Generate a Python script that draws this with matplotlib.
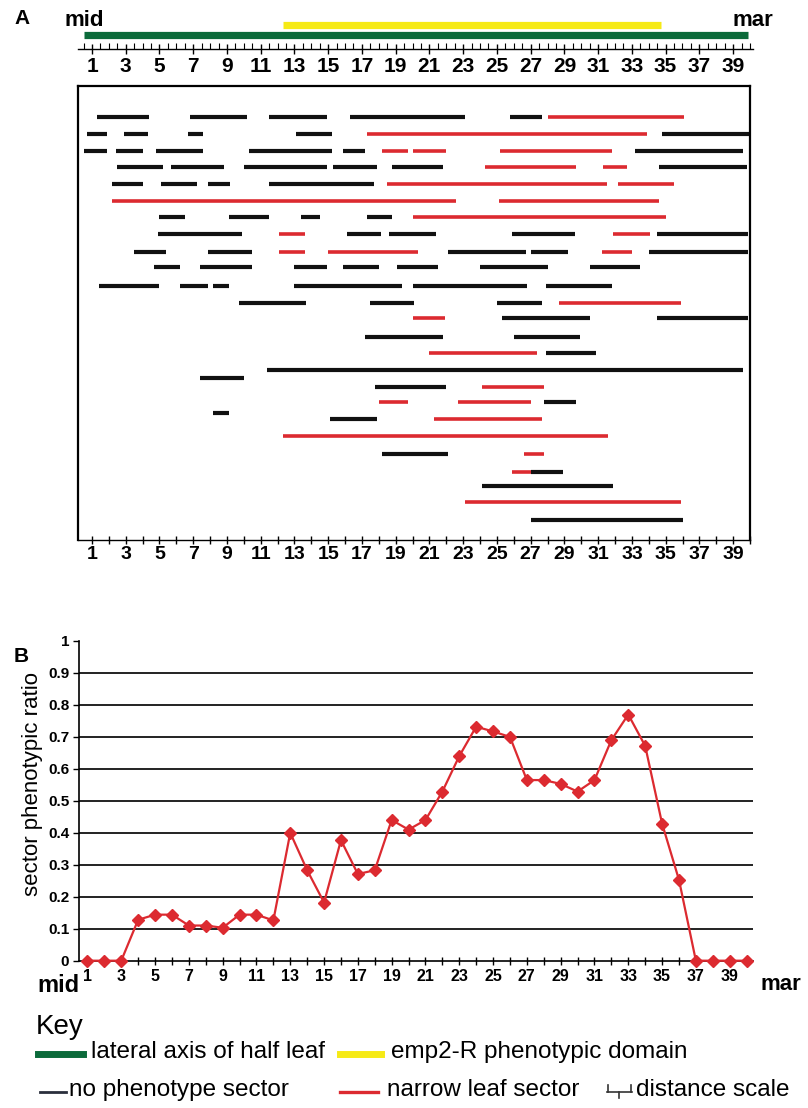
import numpy as np
import matplotlib.pyplot as plt

W, H = 808, 1108
NARROW = ['Liberation Sans Narrow', 'Liberation Sans', 'DejaVu Sans']
ARIAL = ['Liberation Sans', 'DejaVu Sans']
plt.rcParams['font.family'] = NARROW

# colours
GREEN = '#0b6a3a'
YELLOW = '#f6ea16'
BLACK = '#111111'
RED = '#dc2a30'

# Panel A: leaf position scale (mid -> mar)
lateral_axis = (0.5, 39.9)
emp2_domain = (12.3, 34.7)

# vertical position of each sector row (depth below top of frame)
row_depth = [31, 48, 65, 81, 98, 115, 131, 148, 166, 181, 200, 217, 232, 251,
             267, 284, 292, 301, 316, 327, 333, 350, 368, 386, 400, 416, 434]

# (row, start, end) for sectors with no phenotype
no_pheno = [
    (0, 1.3, 4.4), (0, 6.8, 10.2), (0, 11.5, 14.9), (0, 16.3, 23.1), (0, 25.8, 27.7),
    (1, 0.7, 1.9), (1, 2.9, 4.3), (1, 6.7, 7.6), (1, 13.1, 15.2), (1, 34.8, 40.0),
    (2, 0.5, 1.9), (2, 2.4, 4.0), (2, 4.8, 7.6), (2, 10.3, 15.2), (2, 15.9, 17.2), (2, 33.2, 39.6),
    (3, 2.5, 5.2), (3, 5.7, 8.8), (3, 10.0, 14.9), (3, 15.3, 17.9), (3, 18.8, 21.8), (3, 34.6, 39.8),
    (4, 2.2, 4.0), (4, 5.1, 7.2), (4, 7.9, 9.2), (4, 11.5, 17.7),
    (6, 5.0, 6.5), (6, 9.1, 11.5), (6, 13.4, 14.5), (6, 17.3, 18.8),
    (7, 4.9, 9.9), (7, 16.1, 18.1), (7, 18.6, 21.4), (7, 25.9, 29.6), (7, 34.5, 39.9),
    (8, 3.5, 5.4), (8, 7.9, 10.5), (8, 22.1, 26.7), (8, 27.0, 29.2), (8, 34.0, 39.9),
    (9, 4.7, 6.2), (9, 7.4, 10.5), (9, 13.0, 14.9), (9, 15.9, 18.0), (9, 19.1, 21.5),
    (9, 24.0, 28.0), (9, 30.5, 33.5),
    (10, 1.4, 5.0), (10, 6.2, 7.9), (10, 8.2, 9.1), (10, 13.0, 19.4), (10, 20.0, 26.8),
    (10, 27.9, 31.8),
    (11, 9.7, 13.7), (11, 17.5, 20.1), (11, 25.0, 27.7),
    (12, 25.3, 30.5), (12, 34.5, 39.9),
    (13, 17.2, 21.8), (13, 26.0, 29.9),
    (14, 27.9, 30.9),
    (15, 11.4, 39.6),
    (16, 7.4, 10.0),
    (17, 17.8, 22.0),
    (18, 27.8, 29.7),
    (19, 8.2, 9.1),
    (20, 15.1, 17.9),
    (22, 18.2, 22.1),
    (23, 27.0, 28.9),
    (24, 24.1, 31.9),
    (26, 27.0, 36.0),
]

# (row, start, end) for narrow leaf sectors
narrow_leaf = [
    (0, 28.0, 36.1),
    (1, 17.3, 33.9),
    (2, 18.2, 19.7), (2, 20.0, 22.0), (2, 25.2, 31.8),
    (3, 24.3, 29.7), (3, 31.3, 32.7),
    (4, 18.5, 31.5), (4, 32.2, 35.5),
    (5, 2.2, 22.6), (5, 25.1, 34.6),
    (6, 20.0, 35.0),
    (7, 12.1, 13.6), (7, 31.9, 34.1),
    (8, 12.1, 13.6), (8, 15.0, 20.3), (8, 31.2, 33.0),
    (11, 28.7, 35.9),
    (12, 20.0, 21.9),
    (14, 21.0, 27.4),
    (17, 24.1, 27.8),
    (18, 18.0, 19.7), (18, 22.7, 27.0),
    (20, 21.3, 27.7),
    (21, 12.3, 31.6),
    (22, 26.6, 27.8),
    (23, 25.9, 27.0),
    (25, 23.1, 35.9),
]

# Panel B: sector phenotypic ratio along the half leaf
positions = np.arange(1, 41)
ratio = [0, 0, 0, 0.128, 0.144, 0.144, 0.11, 0.11, 0.103, 0.144,
         0.144, 0.126, 0.40, 0.283, 0.182, 0.377, 0.271, 0.283, 0.44, 0.41,
         0.44, 0.529, 0.64, 0.732, 0.717, 0.70, 0.565, 0.565, 0.553, 0.529,
         0.565, 0.69, 0.77, 0.672, 0.429, 0.253, 0, 0, 0, 0]

fig = plt.figure(figsize=(W / 100, H / 100), dpi=100)


def frac(x0, y0, x1, y1):
    # pixel box -> figure fraction rect
    return [x0 / W, 1 - y1 / H, (x1 - x0) / W, (y1 - y0) / H]


# ---- top ruler ----
ax_top = fig.add_axes(frac(78, 18, 753, 49))
ax_top.set_xlim(0.17, 40.18)
ax_top.set_ylim(0, 1)
ax_top.hlines(0.45, *lateral_axis, color=GREEN, lw=5.2)
ax_top.hlines(0.76, *emp2_domain, color=YELLOW, lw=5.2)
for s in ['top', 'left', 'right']:
    ax_top.spines[s].set_visible(False)
ax_top.spines['bottom'].set_linewidth(1.0)
ax_top.set_yticks([])
ax_top.set_xticks(np.arange(1, 40, 2))
ax_top.set_xticklabels([str(i) for i in range(1, 40, 2)], fontsize=15, fontweight='bold')
ax_top.set_xticks(np.arange(0.5, 40.5, 0.5), minor=True)
ax_top.tick_params(axis='x', which='major', direction='inout', length=7, width=1, pad=2)
ax_top.tick_params(axis='x', which='minor', direction='in', length=4, width=0.8)

# ---- panel A sectors ----
ax_a = fig.add_axes(frac(78, 86, 750, 540))
ax_a.set_xlim(0.17, 40.0)
ax_a.set_ylim(454, 0)
for row, x0, x1 in no_pheno:
    ax_a.hlines(row_depth[row], x0, x1, color=BLACK, lw=3.0)
for row, x0, x1 in narrow_leaf:
    ax_a.hlines(row_depth[row], x0, x1, color=RED, lw=2.6)
for s in ['top', 'left', 'right']:
    ax_a.spines[s].set_linewidth(1.6)
ax_a.spines['bottom'].set_linewidth(1.0)
ax_a.set_yticks([])
ax_a.set_xticks(np.arange(1, 40, 2))
ax_a.set_xticklabels([str(i) for i in range(1, 40, 2)], fontsize=14, fontweight='bold')
ax_a.set_xticks(np.arange(1, 41), minor=True)
ax_a.tick_params(axis='x', which='both', direction='inout', length=6, width=1, pad=1)

# ---- panel B ----
ax_b = fig.add_axes(frac(79, 641, 753, 960.7))
ax_b.set_xlim(0.5, 40.38)
ax_b.set_ylim(0, 1)
for v in np.arange(0.1, 0.95, 0.1):
    ax_b.axhline(v, color=BLACK, lw=1.3, zorder=1)
ax_b.plot(positions, ratio, color=RED, lw=1.6, marker='D', ms=6.5,
          clip_on=False, zorder=3)
ax_b.spines['top'].set_visible(False)
ax_b.spines['right'].set_visible(False)
ax_b.spines['left'].set_linewidth(1.2)
ax_b.spines['bottom'].set_linewidth(1.2)
ax_b.set_yticks(np.arange(0, 1.01, 0.1))
ax_b.set_yticklabels(['0'] + ['%.1f' % v for v in np.arange(0.1, 0.95, 0.1)] + ['1'],
                     fontsize=11, fontweight='bold', family=ARIAL)
ax_b.set_xticks(positions)
ax_b.set_xticklabels([str(p) if p % 2 else '' for p in positions],
                     fontsize=11.5, fontweight='bold')
ax_b.tick_params(axis='y', direction='out', length=4, width=1, pad=3)
ax_b.tick_params(axis='x', direction='inout', length=6, width=1, pad=3)
ax_b.set_ylabel('sector phenotypic ratio', fontsize=16, family=ARIAL)
ax_b.yaxis.set_label_coords(-0.053, 0.553)

# ---- overlay for panel letters, end labels and key ----
ov = fig.add_axes([0, 0, 1, 1])
ov.set_xlim(0, W)
ov.set_ylim(H, 0)
ov.axis('off')

ov.text(14, 18, 'A', fontsize=15, fontweight='bold', family=ARIAL, va='center')
ov.text(64, 20, 'mid', fontsize=16, fontweight='bold', va='center')
ov.text(733, 20, 'mar', fontsize=16, fontweight='bold', va='center')
ov.text(14, 656, 'B', fontsize=15, fontweight='bold', family=ARIAL, va='center')
ov.text(37, 985, 'mid', fontsize=17, fontweight='bold', va='center')
ov.text(761, 985, 'mar', fontsize=16, fontweight='bold', va='center')

ov.text(36, 1027, 'Key', fontsize=20, va='center')
ov.plot([38, 83], [1054, 1054], color=GREEN, lw=5)
ov.text(91, 1052, 'lateral axis of half leaf', fontsize=17.5, va='center')
ov.plot([340, 381], [1054, 1054], color=YELLOW, lw=5)
ov.text(391, 1052, 'emp2-R phenotypic domain', fontsize=17.5, va='center')
ov.plot([40, 66], [1092, 1092], color='#2a2f3c', lw=2)
ov.text(69, 1090, 'no phenotype sector', fontsize=17.5, va='center')
ov.plot([340, 378], [1092, 1092], color=RED, lw=2.4)
ov.text(387, 1090, 'narrow leaf sector', fontsize=17.5, va='center')
# distance scale icon
ov.plot([607, 632], [1092, 1092], color='#333333', lw=1.2)
for tx, (ya, yb) in zip([608, 619, 631], [(1085, 1092), (1092, 1098), (1085, 1092)]):
    ov.plot([tx, tx], [ya, yb], color='#333333', lw=1.2)
ov.text(636, 1090, 'distance scale', fontsize=17.5, va='center')

fig.savefig('out.png', dpi=100)
